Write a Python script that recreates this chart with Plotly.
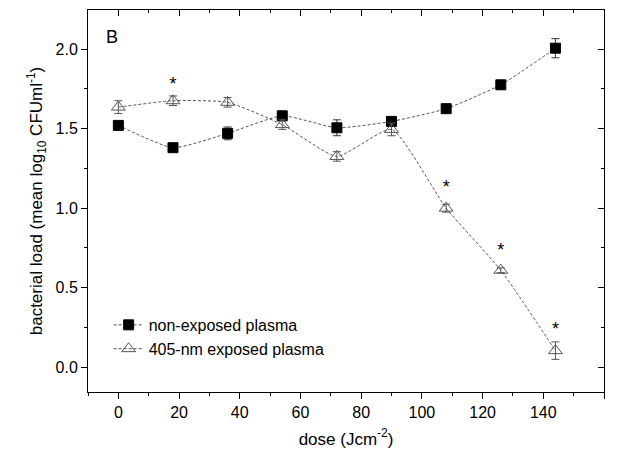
import plotly.graph_objects as go

dose = [0, 18, 36, 54, 72, 90, 108, 126, 144]
non_exposed = [1.52, 1.38, 1.47, 1.58, 1.505, 1.545, 1.625, 1.775, 2.005]
non_exposed_err = [0.02, 0.015, 0.04, 0.03, 0.05, 0.02, 0.015, 0.015, 0.06]
exposed = [1.635, 1.675, 1.665, 1.525, 1.325, 1.495, 1.0, 0.61, 0.105]
exposed_err = [0.04, 0.03, 0.03, 0.03, 0.03, 0.04, 0.025, 0.015, 0.055]
star_dose = [18, 108, 126, 144]
star_y = [1.77, 1.125, 0.725, 0.23]

FONT = "Liberation Sans, Arial, sans-serif"
XR = [-10, 160]
YR = [-0.155, 2.245]

fig = go.Figure()
fig.add_trace(go.Scatter(
    x=dose, y=non_exposed, name="non-exposed plasma", mode="lines+markers",
    line=dict(color="#555555", width=1, dash="3px,2px", shape="spline", smoothing=0.5),
    marker=dict(symbol="square", size=10, color="black", line=dict(color="black", width=1)),
    error_y=dict(type="data", array=non_exposed_err, color="#333333", thickness=1, width=4),
))
fig.add_trace(go.Scatter(
    x=dose, y=exposed, name="405-nm exposed plasma", mode="lines+markers",
    line=dict(color="#555555", width=1, dash="3px,2px", shape="spline", smoothing=0.5),
    marker=dict(symbol="triangle-up-open", size=12, color="#555555", line=dict(color="#555555", width=1)),
    error_y=dict(type="data", array=exposed_err, color="#555555", thickness=1, width=4),
))
fig.add_trace(go.Scatter(
    x=star_dose, y=star_y, mode="text", text=["*"] * len(star_dose),
    textposition="middle center", textfont=dict(family=FONT, size=18, color="black"),
    showlegend=False, hoverinfo="skip",
))
# invisible trace for mirrored inward ticks
fig.add_trace(go.Scatter(x=[XR[0]], y=[YR[0]], xaxis="x2", yaxis="y2", mode="markers",
                         marker=dict(opacity=0), showlegend=False, hoverinfo="skip"))

fig.add_annotation(x=0.046, y=0.93, xref="paper", yref="paper", text="B", showarrow=False,
                   font=dict(family=FONT, size=18, color="black"), xanchor="center", yanchor="middle")

axis_common = dict(showgrid=False, zeroline=False, linecolor="black", linewidth=1,
                   tickfont=dict(family=FONT, size=16, color="black"), tickcolor="black")

fig.update_layout(
    width=617, height=457,
    margin=dict(l=88, r=13, t=10, b=65),
    paper_bgcolor="white", plot_bgcolor="white",
    font=dict(family=FONT, color="black"),
    xaxis=dict(range=XR, tickmode="array", tickvals=list(range(0, 161, 20)),
               ticks="outside", ticklen=6, mirror=True, showline=True,
               minor=dict(dtick=10, tick0=0, ticks="outside", ticklen=3, tickcolor="black"),
               title=dict(text="dose (Jcm<sup>-2</sup>)", font=dict(family=FONT, size=17), standoff=12),
               **axis_common),
    yaxis=dict(range=YR, tickmode="array", tickvals=[0, 0.5, 1.0, 1.5, 2.0],
               ticktext=["0.0", "0.5", "1.0", "1.5", "2.0"],
               ticks="outside", ticklen=6, mirror=True, showline=True,
               minor=dict(dtick=0.25, tick0=0, ticks="outside", ticklen=3, tickcolor="black"),
               title=dict(text="bacterial load (mean log<sub>10</sub> CFUml<sup>-1</sup>)",
                          font=dict(family=FONT, size=17), standoff=8),
               **axis_common),
    xaxis2=dict(range=XR, overlaying="x", side="top", anchor="y", showticklabels=False,
                tickmode="array", tickvals=list(range(0, 161, 20)), ticks="inside", ticklen=6,
                minor=dict(dtick=10, tick0=0, ticks="inside", ticklen=3, tickcolor="black"),
                showline=False, showgrid=False, zeroline=False, tickcolor="black"),
    yaxis2=dict(range=YR, overlaying="y", side="right", anchor="x", showticklabels=False,
                tickmode="array", tickvals=[0, 0.5, 1.0, 1.5, 2.0], ticks="inside", ticklen=6,
                minor=dict(dtick=0.25, tick0=0, ticks="inside", ticklen=3, tickcolor="black"),
                showline=False, showgrid=False, zeroline=False, tickcolor="black"),
    legend=dict(x=0.04, y=0.22, xanchor="left", yanchor="top", bgcolor="rgba(0,0,0,0)",
                font=dict(family=FONT, size=16, color="black"), tracegroupgap=0, itemwidth=30),
    showlegend=True,
)

fig.write_html("out.html")
